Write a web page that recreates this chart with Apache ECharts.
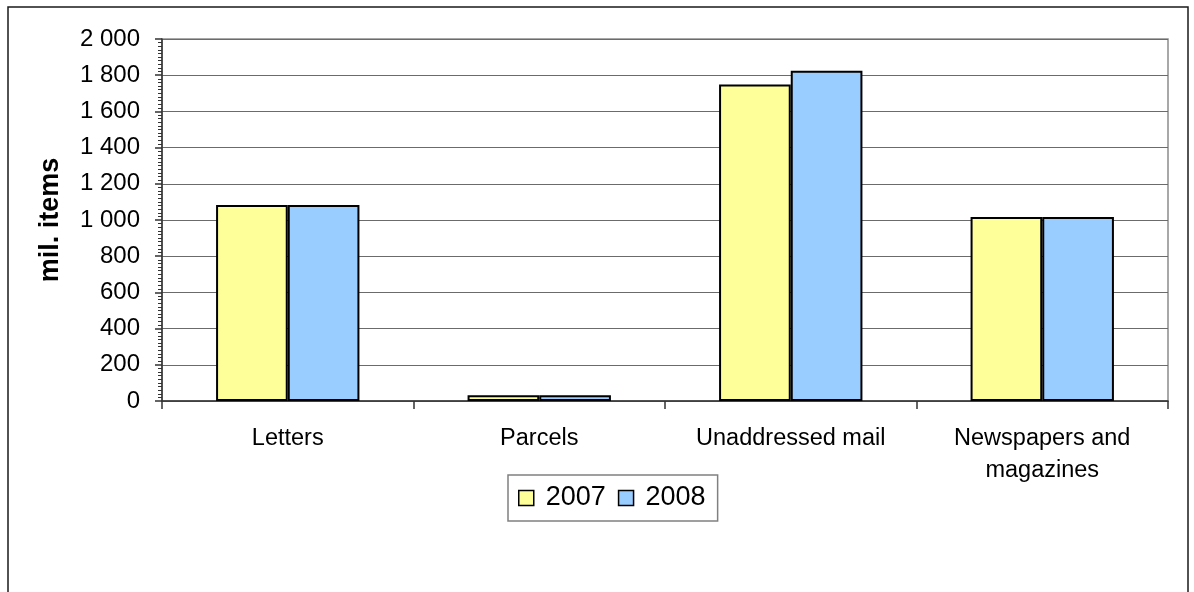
<!DOCTYPE html>
<html>
<head>
<meta charset="utf-8">
<title>Mail volumes 2007–2008</title>
<script src="https://cdn.jsdelivr.net/npm/echarts@6/dist/echarts.min.js"></script>
<style>
  html, body { margin: 0; padding: 0; background: #ffffff; }
  #chart { width: 1194px; height: 592px; }
</style>
</head>
<body>
<div id="chart"></div>
<script>
// Categories and volumes (millions of items)
const categories = ['Letters', 'Parcels', 'Unaddressed mail', 'Newspapers and\nmagazines'];
const values2007 = [1083, 32, 1749, 1017];
const values2008 = [1083, 32, 1825, 1017];
const seriesNames = ['2007', '2008'];

const FONT = '"Liberation Sans", Arial, sans-serif';

// thousands separated by a space: 1800 -> "1 800"
function spaced(v) {
  return String(v).replace(/\B(?=(\d{3})+(?!\d))/g, ' ');
}

const chart = echarts.init(document.getElementById('chart'), null, { renderer: 'canvas' });

chart.setOption({
  animation: false,
  backgroundColor: '#ffffff',
  textStyle: { fontFamily: FONT },
  graphic: [
    {
      type: 'rect',
      shape: { x: 8, y: 7, width: 1180, height: 640 },
      style: { fill: 'none', stroke: '#1a1a1a', lineWidth: 1.5 },
      silent: true,
      z: -1
    }
  ],
  grid: {
    left: 162,
    right: 26,
    top: 39,
    bottom: 191,
    show: true,
    borderColor: '#8c8c8c',
    borderWidth: 1.5,
    backgroundColor: 'transparent'
  },
  legend: {
    data: seriesNames,
    left: 508,
    top: 475,
    orient: 'horizontal',
    icon: 'rect',
    itemWidth: 15,
    itemHeight: 15,
    itemGap: 12,
    padding: [8, 12, 8, 10],
    borderColor: '#808080',
    borderWidth: 1.5,
    itemStyle: { borderColor: '#000000', borderWidth: 1.5 },
    textStyle: {
      fontFamily: FONT,
      fontSize: 27,
      color: '#000000',
      lineHeight: 30,
      padding: [0, 0, 0, 7]
    }
  },
  xAxis: {
    type: 'category',
    data: categories,
    axisLine: { lineStyle: { color: '#333333', width: 1.5 } },
    axisTick: { show: true, length: 8, alignWithLabel: false, lineStyle: { color: '#333333', width: 1.5 } },
    axisLabel: {
      interval: 0,
      margin: 22,
      color: '#000000',
      fontFamily: FONT,
      fontSize: 23.5,
      lineHeight: 32,
      align: 'center'
    },
    splitLine: { show: false }
  },
  yAxis: {
    type: 'value',
    min: 0,
    max: 2000,
    interval: 200,
    name: 'mil. items',
    nameLocation: 'middle',
    nameGap: 98,
    nameRotate: 90,
    nameTextStyle: {
      fontFamily: FONT,
      fontSize: 27,
      fontWeight: 'bold',
      color: '#000000'
    },
    axisLine: { show: true, lineStyle: { color: '#333333', width: 1.5 } },
    axisTick: { show: true, length: 7, inside: false, lineStyle: { color: '#333333', width: 1.5 } },
    minorTick: { show: true, splitNumber: 10, length: 4, lineStyle: { color: '#333333', width: 1 } },
    axisLabel: {
      margin: 22,
      color: '#000000',
      fontFamily: FONT,
      fontSize: 24,
      formatter: spaced
    },
    splitLine: { show: true, lineStyle: { color: '#6b6b6b', width: 1 } }
  },
  series: [
    {
      name: seriesNames[0],
      type: 'bar',
      data: values2007,
      barGap: '0%',
      barCategoryGap: '43%',
      itemStyle: { color: '#FFFF99', borderColor: '#000000', borderWidth: 2 }
    },
    {
      name: seriesNames[1],
      type: 'bar',
      data: values2008,
      barGap: '0%',
      barCategoryGap: '43%',
      itemStyle: { color: '#99CCFF', borderColor: '#000000', borderWidth: 2 }
    }
  ]
});
</script>
</body>
</html>
